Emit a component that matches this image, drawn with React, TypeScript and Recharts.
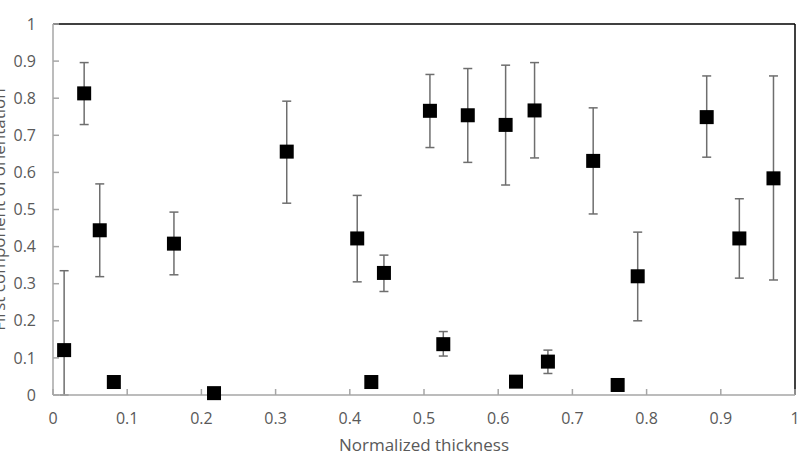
import React from 'react'
import { ScatterChart, Scatter, XAxis, YAxis, ErrorBar, ReferenceLine, Label } from 'recharts'

// normalized thickness (x) and first orientation component (y)
const thickness = [0.015, 0.042, 0.063, 0.082, 0.163, 0.217, 0.315, 0.41, 0.429, 0.446, 0.508, 0.526, 0.559, 0.61, 0.624, 0.649, 0.667, 0.728, 0.761, 0.788, 0.881, 0.925, 0.971]
const orientation = [0.121, 0.813, 0.444, 0.035, 0.408, 0.005, 0.656, 0.422, 0.035, 0.329, 0.766, 0.137, 0.754, 0.728, 0.036, 0.767, 0.09, 0.631, 0.027, 0.32, 0.749, 0.422, 0.584]
const upperBound = [0.335, 0.896, 0.569, 0.035, 0.493, 0.005, 0.792, 0.538, 0.035, 0.377, 0.864, 0.171, 0.88, 0.889, 0.036, 0.896, 0.121, 0.774, 0.027, 0.439, 0.86, 0.529, 0.86]
const lowerBound = [0, 0.729, 0.319, 0.035, 0.324, 0.005, 0.517, 0.305, 0.035, 0.279, 0.667, 0.105, 0.627, 0.566, 0.036, 0.639, 0.058, 0.488, 0.027, 0.2, 0.641, 0.315, 0.31]
const axisTicks = [0, 0.1, 0.2, 0.3, 0.4, 0.5, 0.6, 0.7, 0.8, 0.9, 1]

const data = thickness.map((x, i) => ({
  x,
  y: orientation[i],
  err: [Math.max(0, orientation[i] - lowerBound[i]), Math.max(0, upperBound[i] - orientation[i])]
}))

const SquareMarker = (props: any) => {
  const { cx, cy } = props
  if (cx == null || cy == null) return null
  return <rect x={cx - 7} y={cy - 7} width={14} height={14} fill="#000" />
}

const tickStyle = { fill: '#595959', fontSize: 16, fontFamily: 'Open Sans' }

const App: React.FC = () => {
  return (
    <div style={{ position: 'absolute', left: 0, top: 0, background: '#fff' }}>
      <ScatterChart width={802} height={460} margin={{ top: 24, right: 7, bottom: 0, left: 0 }}>
        <XAxis
          type="number"
          dataKey="x"
          domain={[0, 1]}
          ticks={axisTicks}
          interval={0}
          height={65}
          tickSize={-6}
          tickMargin={24}
          stroke="#a6a6a6"
          strokeWidth={1.5}
          tick={tickStyle}
        >
          <Label
            value="Normalized thickness"
            position="insideBottom"
            offset={9}
            style={{ fill: '#595959', fontSize: 17, fontFamily: 'Open Sans' }}
          />
        </XAxis>
        <YAxis
          type="number"
          dataKey="y"
          domain={[0, 1]}
          ticks={axisTicks}
          interval={0}
          width={53}
          tickSize={-6}
          tickMargin={23}
          stroke="#a6a6a6"
          strokeWidth={1.5}
          tick={tickStyle}
        >
          <Label
            value="First component of orientation"
            angle={-90}
            position="insideLeft"
            offset={-1}
            style={{ textAnchor: 'middle', fill: '#595959', fontSize: 17, fontFamily: 'Open Sans' }}
          />
        </YAxis>
        <ReferenceLine y={1} stroke="#000" strokeWidth={1.5} />
        <ReferenceLine x={1} stroke="#000" strokeWidth={1.5} />
        <Scatter data={data} shape={SquareMarker} isAnimationActive={false}>
          <ErrorBar dataKey="err" direction="y" width={4.5} stroke="#6e6e6e" strokeWidth={1.5} />
        </Scatter>
      </ScatterChart>
    </div>
  )
}

export default App
